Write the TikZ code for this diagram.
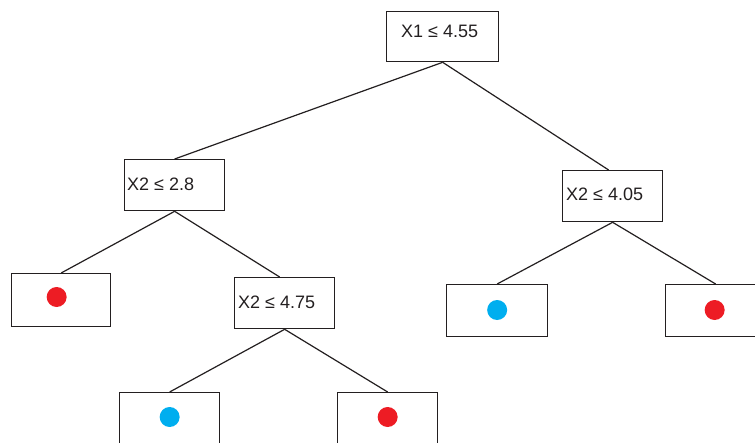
\documentclass[tikz,border=0pt]{standalone}
\usepackage{fontspec}
\setmainfont{Liberation Sans}
\definecolor{leafred}{HTML}{ED1C24}
\definecolor{leafblue}{HTML}{00AEEF}
\definecolor{ink}{HTML}{231F20}
\begin{document}
\begin{tikzpicture}[x=1pt,y=-1pt,
  box/.style={draw=ink, line width=1.3pt, rectangle, inner sep=0pt, anchor=north west},
  edge/.style={draw=ink, line width=1.2pt},
  lbl/.style={font=\fontsize{18}{21}\selectfont, text=ink, inner sep=0pt, anchor=west},
  dot/.style={circle, fill, inner sep=0pt, minimum size=20pt}]
\useasboundingbox (0,0) rectangle (755,442);
\clip (0,0) rectangle (755,442);

% split nodes
\node[box, minimum width=112pt, minimum height=50pt] (r) at (386,11) {};
\node[box, minimum width=100pt, minimum height=51pt] (a) at (124,159) {};
\node[box, minimum width=100pt, minimum height=51pt] (b) at (234,277) {};
\node[box, minimum width=100pt, minimum height=51pt] (c) at (562,170) {};

% leaves
\node[box, minimum width=99pt, minimum height=53pt] (l1) at (11,273) {};
\node[box, minimum width=100pt, minimum height=53pt] (l2) at (119,392) {};
\node[box, minimum width=100pt, minimum height=53pt] (l3) at (337,392) {};
\node[box, minimum width=101pt, minimum height=52pt] (l4) at (446,284) {};
\node[box, minimum width=100pt, minimum height=52pt] (l5) at (665,284) {};

% split labels
\node[lbl, anchor=center] (tr) at ([xshift=-3pt,yshift=5pt]r.center) {X1 ≤ 4.55};
\node[lbl] (ta) at ([xshift=3pt,yshift=1pt]a.west) {X2 ≤ 2.8};
\node[lbl] (tb) at ([xshift=4pt,yshift=1pt]b.west) {X2 ≤ 4.75};
\node[lbl] (tc) at ([xshift=4pt,yshift=2pt]c.west) {X2 ≤ 4.05};

% class dots
\node[dot, leafred] (d1) at ([xshift=-4.5pt,yshift=-24pt]l1.north) {};
\node[dot, leafblue] (d2) at ([yshift=-25pt]l2.north) {};
\node[dot, leafred] (d3) at ([yshift=-25pt]l3.north) {};
\node[dot, leafblue] (d4) at ([yshift=-26pt]l4.north) {};
\node[dot, leafred] (d5) at ([xshift=-1pt,yshift=-26pt]l5.north) {};

% connectors
\draw[edge] (r.south) -- (a.north);
\draw[edge] (r.south) -- ([xshift=-4pt]c.north);
\draw[edge] (a.south) -- (l1.north);
\draw[edge] (a.south) -- ([xshift=-5pt]b.north);
\draw[edge] (b.south) -- (l2.north);
\draw[edge] (b.south) -- (l3.north);
\draw[edge] (c.south) -- (l4.north);
\draw[edge] (c.south) -- (l5.north);
\end{tikzpicture}
\end{document}
